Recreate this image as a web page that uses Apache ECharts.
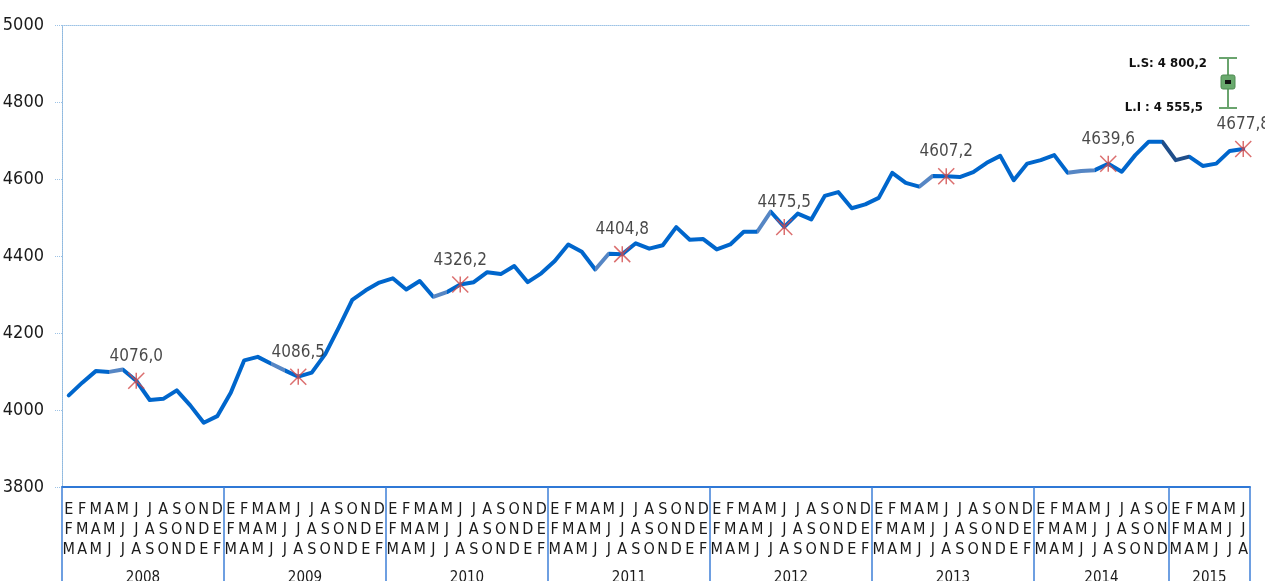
<!DOCTYPE html>
<html>
<head>
<meta charset="utf-8">
<script src="https://cdn.jsdelivr.net/npm/echarts@6/dist/echarts.min.js"></script>
<style>
  html, body { margin: 0; padding: 0; background: #fff; }
  #chart { width: 1265px; height: 581px; }
</style>
</head>
<body>
<div id="chart"></div>
<script>
// rolling three-month labels (Spanish month initials)
const trimesters = ['EFM', 'FMA', 'MAM', 'AMJ', 'MJJ', 'JJA', 'JAS', 'ASO', 'SON', 'OND', 'NDE', 'DEF']
const years = ['2008', '2009', '2010', '2011', '2012', '2013', '2014', '2015']
const yearCounts = [12, 12, 12, 12, 12, 12, 10, 6]

// series values, one per rolling quarter
const values = [
  4038, 4071, 4101, 4099, 4105, 4076.0, 4026, 4029, 4051, 4012, 3967, 3984,
  4045, 4129, 4138, 4120, 4103, 4086.5, 4097, 4145, 4214, 4286, 4311, 4331,
  4342, 4313, 4335, 4294, 4306, 4326.2, 4332, 4358, 4353, 4374, 4332, 4355,
  4387, 4430, 4411, 4365, 4406, 4404.8, 4433, 4419, 4428, 4475, 4442, 4444,
  4417, 4430, 4463, 4463, 4515, 4475.5, 4510, 4495, 4556, 4566, 4524, 4534,
  4551, 4616, 4590, 4580, 4608, 4607.2, 4605, 4618, 4642, 4660, 4597, 4640,
  4649, 4662, 4616, 4621, 4623, 4639.6, 4619, 4662,
  4697, 4697, 4649, 4658, 4634, 4640, 4673, 4677.8
]

// points highlighted with a star and a value label
const markedIdx = [5, 17, 29, 41, 53, 65, 77, 87]

const categories = []
yearCounts.forEach(n => {
  for (let i = 0; i < n; i++) categories.push(trimesters[i])
})

const yearBounds = [0]
yearCounts.forEach(n => yearBounds.push(yearBounds[yearBounds.length - 1] + n))
const yearMids = yearCounts.map((n, i) => yearBounds[i] + n / 2)

const narrow = "'Liberation Sans Narrow', 'DejaVu Sans Condensed', 'Roboto', sans-serif"
const blue = '#0066cc'
const light = '#5686c4'
const dark = '#1f4e8a'

const chart = echarts.init(document.getElementById('chart'))

const option = {
  animation: false,
  grid: { left: 62, right: 15, top: 25, bottom: 94, containLabel: false, outerBoundsMode: 'none' },
  visualMap: {
    show: false,
    type: 'piecewise',
    dimension: 0,
    seriesIndex: 0,
    pieces: [
      { lte: 3, color: blue },
      { gt: 3, lte: 4, color: light },
      { gt: 4, lte: 15, color: blue },
      { gt: 15, lte: 16, color: light },
      { gt: 16, lte: 27, color: blue },
      { gt: 27, lte: 28, color: light },
      { gt: 28, lte: 39, color: blue },
      { gt: 39, lte: 40, color: light },
      { gt: 40, lte: 51, color: blue },
      { gt: 51, lte: 52, color: light },
      { gt: 52, lte: 63, color: blue },
      { gt: 63, lte: 64, color: light },
      { gt: 64, lte: 74, color: blue },
      { gt: 74, lte: 76, color: light },
      { gt: 76, lte: 81, color: blue },
      { gt: 81, lte: 83, color: dark },
      { gt: 83, color: blue }
    ]
  },
  xAxis: [
    {
      type: 'category',
      data: categories,
      boundaryGap: true,
      axisLine: { lineStyle: { color: '#2f78d6', width: 2 } },
      axisTick: { interval: 0, length: 70, lineStyle: { color: '#3f80d8', width: 1.5 } },
      axisLabel: {
        interval: 0,
        margin: 13,
        fontFamily: narrow,
        fontSize: 16,
        lineHeight: 20,
        color: '#1a1a1a',
        formatter: v => v.split('').join('\n')
      }
    },
    {
      // year separators and labels
      type: 'value',
      position: 'bottom',
      min: 0,
      max: categories.length,
      axisLine: { show: false },
      splitLine: { show: false },
      axisTick: {
        show: true,
        customValues: yearBounds,
        length: 94,
        lineStyle: { color: '#3f80d8', width: 1.5 }
      },
      axisLabel: {
        customValues: yearMids,
        margin: 84,
        fontFamily: narrow,
        fontSize: 15,
        color: '#1a1a1a',
        formatter: v => years[yearMids.indexOf(v)] || ''
      }
    },
    {
      // dotted top border
      type: 'value',
      position: 'top',
      min: 0,
      max: 1,
      axisLine: { show: true, lineStyle: { color: '#9dc3e6', type: 'dotted', width: 1 } },
      axisTick: { show: false },
      axisLabel: { show: false },
      splitLine: { show: false }
    }
  ],
  yAxis: [
    {
      type: 'value',
      min: 3800,
      max: 5000,
      interval: 200,
      axisLine: { show: true, lineStyle: { color: '#2e75b6', type: 'dotted', width: 1 } },
      axisTick: { show: true, length: 7, lineStyle: { color: '#9dc3e6', type: 'dotted' } },
      splitLine: { show: false },
      axisLabel: {
        margin: 18,
        fontFamily: narrow,
        fontSize: 18,
        color: '#1a1a1a',
        formatter: v => String(v)
      }
    },
    {
      // dotted right border
      type: 'value',
      position: 'right',
      min: 0,
      max: 1,
      axisLine: { show: true, lineStyle: { color: '#9dc3e6', type: 'dotted', width: 1 } },
      axisTick: { show: false },
      axisLabel: { show: false },
      splitLine: { show: false }
    }
  ],
  series: [
    {
      type: 'line',
      data: values,
      symbol: 'none',
      lineStyle: { width: 4, cap: 'round', join: 'round' },
      z: 2
    },
    {
      type: 'scatter',
      data: markedIdx.map(i => [i, values[i]]),
      symbol: 'path://M0,0 L10,10 M10,0 L0,10 M5,0 L5,10',
      symbolSize: 16,
      itemStyle: { color: 'rgba(0,0,0,0)', borderColor: '#d24a4a', borderWidth: 1.5 },
      label: {
        show: true,
        position: 'top',
        distance: 7,
        fontFamily: narrow,
        fontSize: 17,
        color: '#1a1a1a',
        formatter: p => p.value[1].toFixed(1).replace('.', ',')
      },
      z: 3
    }
  ],
  graphic: [
    {
      // confidence interval legend (upper / lower limit)
      type: 'group',
      x: 1219,
      y: 57,
      children: [
        { type: 'line', shape: { x1: 9, y1: 1, x2: 9, y2: 51 }, style: { stroke: '#6aa46e', lineWidth: 2 } },
        { type: 'line', shape: { x1: 0, y1: 1, x2: 18, y2: 1 }, style: { stroke: '#6aa46e', lineWidth: 2 } },
        { type: 'line', shape: { x1: 0, y1: 51, x2: 18, y2: 51 }, style: { stroke: '#6aa46e', lineWidth: 2 } },
        { type: 'rect', shape: { x: 2, y: 18, width: 14, height: 14, r: 2 }, style: { fill: '#69a96d', stroke: '#4f8c53', lineWidth: 1 } },
        { type: 'rect', shape: { x: 6, y: 23, width: 6, height: 4 }, style: { fill: '#111' } }
      ]
    },
    {
      type: 'text',
      x: 1207,
      y: 64,
      style: {
        text: 'L.S: 4 800,2',
        fontFamily: narrow,
        fontWeight: 'bold',
        fontSize: 13,
        fill: '#111',
        align: 'right',
        verticalAlign: 'middle'
      }
    },
    {
      type: 'text',
      x: 1203,
      y: 108,
      style: {
        text: 'L.I : 4 555,5',
        fontFamily: narrow,
        fontWeight: 'bold',
        fontSize: 13,
        fill: '#111',
        align: 'right',
        verticalAlign: 'middle'
      }
    }
  ]
}

chart.setOption(option)

window.addEventListener('resize', () => {
  chart.resize()
})
</script>
</body>
</html>
